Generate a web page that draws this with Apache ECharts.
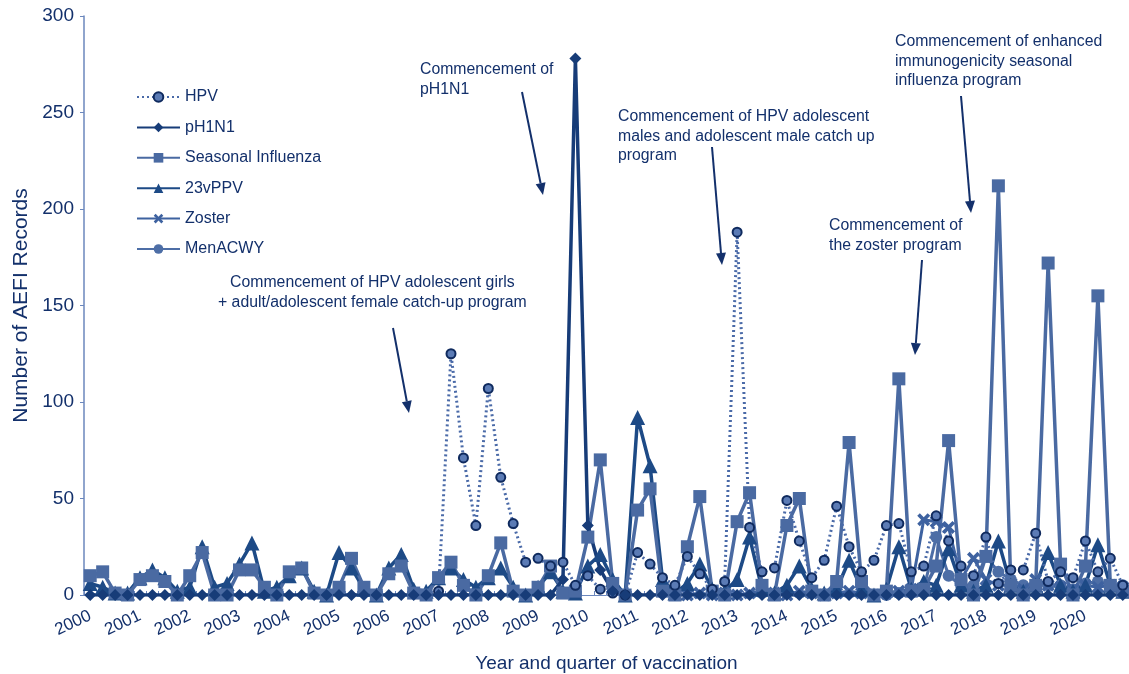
<!DOCTYPE html>
<html>
<head>
<meta charset="utf-8">
<script src="https://cdn.jsdelivr.net/npm/echarts@6.0.0/dist/echarts.min.js"></script>
<style>
  html, body { margin: 0; padding: 0; background: #fff; }
  #aefiChart { width: 1129px; height: 674px; }
</style>
</head>
<body>
<div id="aefiChart"></div>
<script>
// quarters 2000 Q1 .. 2020 Q4
var years = []
for (var y = 2000; y <= 2020; y++) years.push(String(y))
var quarters = []
years.forEach(function (yr) {
  ;['Q1', 'Q2', 'Q3', 'Q4'].forEach(function (q) { quarters.push(yr + ' ' + q) })
})

var hpv = [
  '-', '-', '-', '-', '-', '-', '-', '-', '-', '-', '-', '-', '-', '-',
  '-', '-', '-', '-', '-', '-', '-', '-', '-', '-', '-', '-', '-', '-',
  2, 125, 71, 36, 107, 61, 37, 17, 19, 15, 17, 5, 10, 3, 1, 0,
  22, 16, 9, 5, 20, 11, 3, 7, 188, 35, 12, 14, 49, 28, 9, 18,
  46, 25, 12, 18, 36, 37, 12, 15, 41, 28, 15, 10, 30, 6, 13, 13,
  32, 7, 12, 9, 28, 12, 19, 5
]
var ph1n1 = [
  0, 0, 0, 0, 0, 0, 0, 0, 0, 0, 0, 0, 0, 0, 0, 0, 0, 0, 0, 0, 0,
  0, 0, 0, 0, 0, 0, 0, 0, 0, 0, 0, 0, 0, 0, 0, 0, 0, 8, 278, 36, 13,
  2, 0, 0, 0, 0, 0, 0, 0, 0, 0, 0, 0, 0, 0, 0, 0, 0, 0, 0, 0, 0,
  0, 0, 0, 0, 0, 0, 0, 0, 0, 0, 0, 0, 0, 0, 0, 0, 0, 0, 0, 0, 0
]
var seasonalFlu = [
  10, 12, 1, 0, 8, 10, 7, 0, 10, 22, 0, 0, 13, 13, 4, 0,
  12, 14, 1, 0, 4, 19, 4, 0, 11, 15, 1, 0, 9, 17, 5, 0,
  10, 27, 2, 0, 4, 15, 1, 2, 30, 70, 6, 0, 44, 55, 2, 0,
  25, 51, 2, 0, 38, 53, 5, 0, 36, 50, 2, 0, 7, 79, 7, 0,
  2, 112, 2, 3, 15, 80, 8, 0, 20, 212, 5, 0, 5, 172, 16, 0,
  15, 155, 5, 2
]
var ppv23 = [
  6, 4, 1, 1, 9, 13, 9, 2, 4, 25, 4, 6, 16, 27, 2, 4,
  10, 14, 2, 0, 22, 14, 3, 0, 14, 21, 3, 2, 9, 14, 8, 4,
  9, 14, 4, 0, 4, 12, 2, 1, 15, 21, 8, 0, 92, 67, 8, 1,
  6, 16, 3, 2, 8, 30, 3, 1, 5, 15, 3, 1, 3, 18, 3, 0,
  3, 25, 3, 7, 5, 24, 5, 2, 5, 28, 5, 2, 5, 22, 5, 2,
  5, 26, 5, 2
]
var zoster = [
  '-', '-', '-', '-', '-', '-', '-', '-', '-', '-', '-', '-', '-', '-', '-', '-',
  '-', '-', '-', '-', '-', '-', '-', '-', '-', '-', '-', '-', '-', '-', '-', '-',
  '-', '-', '-', '-', '-', '-', '-', '-', '-', '-', '-', '-', '-', '-', '-', '-',
  0, 1, 0, 1, 0, 1, 2, 1, 0, 2, 1, 0, 1, 2, 1, 0,
  1, 2, 3, 39, 38, 35, 8, 19, 8, 5, 5, 3, 8, 5, 4, 3,
  5, 4, 5, 4
]
var menACWY = [
  '-', '-', '-', '-', '-', '-', '-', '-', '-', '-', '-', '-', '-', '-', '-', '-',
  '-', '-', '-', '-', '-', '-', '-', '-', '-', '-', '-', '-', '-', '-', '-', '-',
  '-', '-', '-', '-', '-', '-', '-', '-', '-', '-', '-', '-', '-', '-', '-', '-',
  '-', '-', '-', '-', '-', '-', '-', '-', '-', '-', '-', '-', '-', '-', '-', '-',
  0, 1, 2, 3, 30, 10, 5, 5, 20, 12, 8, 5, 5, 5, 5, 3,
  6, 7, 5, 5
]
var yTicks = [0, 50, 100, 150, 200, 250, 300]

var navy = '#13306b'
var font = 'Liberation Sans, Arial, Helvetica, sans-serif'

// annotation boxes (text + arrow)
var notes = [
  { text: 'Commencement of HPV adolescent girls\n+ adult/adolescent female catch-up program', x: 378, y: 273, align: 'center', from: [393, 328], to: [409, 413] },
  { text: 'Commencement of\npH1N1', x: 420, y: 60, align: 'left', from: [522, 92], to: [543, 195] },
  { text: 'Commencement of HPV adolescent\nmales and adolescent male catch up\nprogram', x: 618, y: 107, align: 'left', from: [712, 147], to: [722, 265] },
  { text: 'Commencement of\nthe zoster program', x: 829, y: 216, align: 'left', from: [922, 260], to: [915, 355] },
  { text: 'Commencement of enhanced\nimmunogenicity seasonal\ninfluenza program', x: 895, y: 32, align: 'left', from: [961, 96], to: [971, 213] }
]

function arrowGraphics(n) {
  var dx = n.to[0] - n.from[0], dy = n.to[1] - n.from[1]
  var len = Math.sqrt(dx * dx + dy * dy)
  var ux = dx / len, uy = dy / len
  var hl = 12, hw = 5
  var bx = n.to[0] - ux * hl, by = n.to[1] - uy * hl
  return [
    {
      type: 'line',
      shape: { x1: n.from[0], y1: n.from[1], x2: bx, y2: by },
      style: { stroke: navy, lineWidth: 2 }
    },
    {
      type: 'polygon',
      shape: { points: [n.to, [bx - uy * hw, by + ux * hw], [bx + uy * hw, by - ux * hw]] },
      style: { fill: navy }
    }
  ]
}

var graphics = []
notes.forEach(function (n) {
  graphics.push({
    type: 'text',
    left: n.align === 'center' ? n.x - 160 : n.x,
    top: n.y,
    style: {
      text: n.text,
      fill: navy,
      font: '15.8px ' + font,
      lineHeight: 19.5,
      textAlign: n.align === 'center' ? 'center' : 'left',
      x: n.align === 'center' ? 160 : 0
    }
  })
  graphics = graphics.concat(arrowGraphics(n))
})

var crossPath = 'path://M2,0 L5,3 L8,0 L10,2 L7,5 L10,8 L8,10 L5,7 L2,10 L0,8 L3,5 L0,2 Z'

var chart = echarts.init(document.getElementById('aefiChart'))
chart.setOption({
  animation: false,
  textStyle: { fontFamily: font, color: navy },
  grid: { left: 84, right: 0, top: 16, bottom: 79, containLabel: false, outerBoundsMode: 'none' },
  legend: {
    orient: 'vertical',
    left: 131,
    top: 84,
    itemWidth: 43,
    itemHeight: 12,
    itemGap: 14.4,
    textStyle: { fontSize: 16, color: navy, fontFamily: font },
    data: ['HPV', 'pH1N1', 'Seasonal Influenza', '23vPPV', 'Zoster', 'MenACWY']
  },
  xAxis: {
    type: 'category',
    data: quarters,
    boundaryGap: true,
    name: 'Year and quarter of vaccination',
    nameLocation: 'middle',
    nameGap: 59,
    nameTextStyle: { fontSize: 19, color: navy },
    axisLine: { lineStyle: { color: '#6b87bd', width: 1 } },
    axisTick: { show: true, inside: true, length: 4, interval: 0, lineStyle: { color: '#6b87bd' } },
    axisLabel: {
      interval: 3,
      rotate: 25,
      margin: 20,
      fontSize: 17,
      color: navy,
      formatter: function (v) { return v.split(' ')[0] }
    }
  },
  yAxis: {
    type: 'value',
    min: yTicks[0],
    max: yTicks[yTicks.length - 1],
    interval: 50,
    name: 'Number of AEFI Records',
    nameLocation: 'middle',
    nameGap: 52,
    nameTextStyle: { fontSize: 21, color: navy },
    axisLine: { show: true, lineStyle: { color: '#6b87bd', width: 1.5 } },
    axisTick: { show: true, length: 4, lineStyle: { color: '#6b87bd' } },
    axisLabel: { fontSize: 19, color: navy, margin: 10 },
    splitLine: { show: false }
  },
  series: [
    {
      name: 'MenACWY', type: 'line', data: menACWY,
      symbol: 'circle', symbolSize: 12, showAllSymbol: true,
      lineStyle: { color: '#4d6ea6', width: 3 },
      itemStyle: { color: '#4d6ea6' }
    },
    {
      name: 'Zoster', type: 'line', data: zoster,
      symbol: crossPath, symbolSize: 13, showAllSymbol: true,
      lineStyle: { color: '#3e62a0', width: 3 },
      itemStyle: { color: '#3e62a0' }
    },
    {
      name: '23vPPV', type: 'line', data: ppv23,
      symbol: 'triangle', symbolSize: 15, showAllSymbol: true,
      lineStyle: { color: '#1d4a86', width: 3.5 },
      itemStyle: { color: '#1d4a86' }
    },
    {
      name: 'Seasonal Influenza', type: 'line', data: seasonalFlu,
      symbol: 'rect', symbolSize: 13, showAllSymbol: true,
      lineStyle: { color: '#4a6aa2', width: 3.5 },
      itemStyle: { color: '#4a6aa2' }
    },
    {
      name: 'HPV', type: 'line', data: hpv,
      symbol: 'circle', symbolSize: 9, showAllSymbol: true,
      lineStyle: { color: '#4a6aa8', width: 3, type: [2, 3] },
      itemStyle: { color: '#5b7bb5', borderColor: '#0f2a5e', borderWidth: 2 }
    },
    {
      name: 'pH1N1', type: 'line', data: ph1n1,
      symbol: 'diamond', symbolSize: 12, showAllSymbol: true,
      lineStyle: { color: '#173c78', width: 3.5 },
      itemStyle: { color: '#173c78' }
    }
  ],
  graphic: graphics
})
</script>
</body>
</html>
